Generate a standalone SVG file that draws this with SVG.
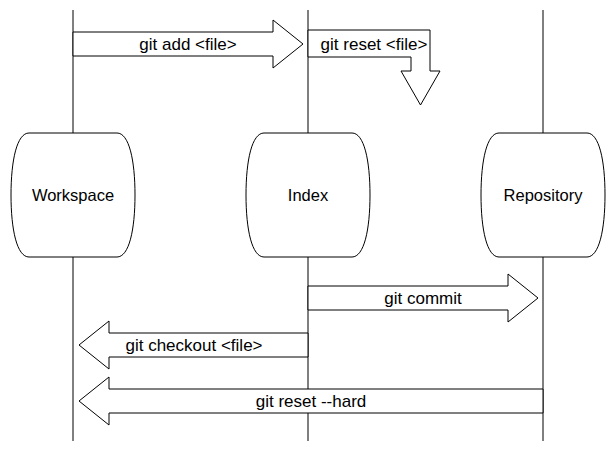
<svg xmlns="http://www.w3.org/2000/svg" width="616" height="454" viewBox="0 0 616 454">
  <style>
    .life { stroke: #000; stroke-width: 1; fill: none; }
    .node { fill: #fff; stroke: #000; stroke-width: 1; }
    .arrow { fill: #fff; stroke: #000; stroke-width: 1; stroke-linejoin: miter; }
    text { font-family: "Liberation Sans", Arial, Helvetica, sans-serif; font-size: 16.5px; fill: #000; text-anchor: middle; }
    .lbl { font-size: 17px; }
  </style>
  <defs>
    <path id="drum" d="M-44,-62 H44 C56,-62 62,-35 62,0 C62,35 56,62 44,62 H-44 C-56,62 -62,35 -62,0 C-62,-35 -56,-62 -44,-62 Z"/>
  </defs>
  <rect width="616" height="454" fill="#fff"/>
  <g id="lifelines">
    <line class="life" x1="73" y1="10" x2="73" y2="441"/>
    <line class="life" x1="308" y1="10" x2="308" y2="441"/>
    <line class="life" x1="543" y1="10" x2="543" y2="441"/>
  </g>
  <g id="workspace">
    <use href="#drum" class="node" transform="translate(73,195)"/>
    <text x="73" y="201">Workspace</text>
  </g>
  <g id="index">
    <use href="#drum" class="node" transform="translate(308,195)"/>
    <text x="308" y="201">Index</text>
  </g>
  <g id="repository">
    <use href="#drum" class="node" transform="translate(543,195)"/>
    <text x="543" y="201">Repository</text>
  </g>
  <g id="connectors">
    <g id="git-add">
      <path class="arrow" d="M73,32 H273 V20 L303,44 L273,68 V56 H73 Z"/>
      <text class="lbl" x="188" y="50">git add &lt;file&gt;</text>
    </g>
    <g id="git-reset-file">
      <path class="arrow" d="M308,30 H430 V71 H440 L420.5,105 L401,71 H411 V57 H308 Z"/>
      <text class="lbl" x="374" y="49.5">git reset &lt;file&gt;</text>
    </g>
    <g id="git-commit">
      <path class="arrow" d="M308,286 H508 V274 L538,298 L508,322 V310 H308 Z"/>
      <text class="lbl" x="423" y="304">git commit</text>
    </g>
    <g id="git-checkout">
      <path class="arrow" d="M308,333 H109 V321 L79,345 L109,369 V357 H308 Z"/>
      <text class="lbl" x="194" y="351">git checkout &lt;file&gt;</text>
    </g>
    <g id="git-reset-hard">
      <path class="arrow" d="M543,389 H109 V377 L79,401 L109,425 V413 H543 Z"/>
      <text class="lbl" x="311" y="407">git reset --hard</text>
    </g>
  </g>
</svg>
